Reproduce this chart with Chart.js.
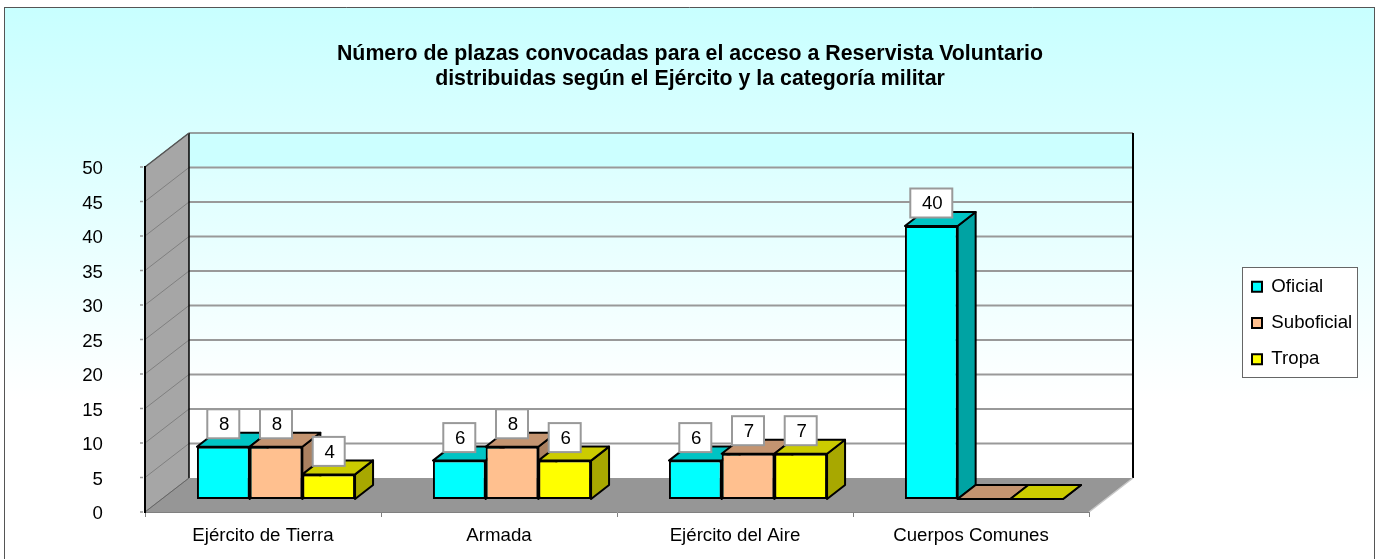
<!DOCTYPE html>
<html><head><meta charset="utf-8">
<style>html,body{margin:0;padding:0;background:#fff}canvas{display:block}</style>
<script src="https://cdn.jsdelivr.net/npm/chart.js@4"></script>
</head><body><canvas id="c" width="1380" height="559"></canvas>
<script>
const categories = ["Ejército de Tierra", "Armada", "Ejército del Aire", "Cuerpos Comunes"];
const seriesNames = ["Oficial", "Suboficial", "Tropa"];
const oficial = [8, 6, 6, 40];
const suboficial = [8, 8, 7, 0];
const tropa = [4, 6, 7, 0];
const seriesValues = [oficial, suboficial, tropa];
const frontColors = ["#00FFFF", "#FFC08F", "#FFFF00"];
const topColors = ["#00C4C4", "#C49470", "#CCCC00"];
const sideColors = ["#00A3A3", "#AA8060", "#A8A800"];
const FONT = "'Liberation Sans', Arial, sans-serif";
const WALL_DX = 44, WALL_DY = 34, BAR_SHIFT_X = 13, BAR_SHIFT_Y = 10, BAR_DX = 18, BAR_DY = 14;

function poly(ctx, pts, fill, stroke, lw) {
  ctx.beginPath();
  pts.forEach((p, i) => i ? ctx.lineTo(p[0], p[1]) : ctx.moveTo(p[0], p[1]));
  ctx.closePath();
  if (fill) { ctx.fillStyle = fill; ctx.fill(); }
  if (stroke) { ctx.strokeStyle = stroke; ctx.lineWidth = lw || 1; ctx.stroke(); }
}
function seg(ctx, x1, y1, x2, y2, color, lw) {
  ctx.beginPath(); ctx.moveTo(x1, y1); ctx.lineTo(x2, y2);
  ctx.strokeStyle = color; ctx.lineWidth = lw; ctx.stroke();
}

const scene = {
  id: "scene",
  afterLayout(chart) {
    const l = chart.legend;
    l.left = 1234.5; l.right = l.left + l.width; l.top = 260; l.bottom = l.top + l.height;
    const t = chart.titleBlock;
    t.left = 0; t.right = chart.width; t.width = chart.width;
    const y = chart.scales.y;
    if (!y._nudged) {
      y._nudged = true;
      const drawLabels = y.drawLabels;
      y.drawLabels = function (a) {
        this.ctx.save(); this.ctx.translate(0, 2);
        drawLabels.call(this, a);
        this.ctx.restore();
      };
    }
  },
  beforeDraw(chart) {
    const { ctx, height } = chart;
    const x = chart.scales.x, y = chart.scales.y;
    const L = x.left, R = x.right, T = y.top, B = y.bottom;
    ctx.save();
    const g = ctx.createLinearGradient(0, 7, 0, 400);
    g.addColorStop(0, "#C8FFFF"); g.addColorStop(1, "#FFFFFF");
    ctx.fillStyle = g; ctx.fillRect(4, 7, 1371, height - 7);
    seg(ctx, 4.5, 7, 4.5, height, "#555", 1);
    seg(ctx, 4, 7.5, 1375, 7.5, "#555", 1);
    seg(ctx, 1374.5, 7, 1374.5, height, "#555", 1);

    // back wall
    const bL = L + WALL_DX, bR = R + WALL_DX, bT = T - WALL_DY, bB = B - WALL_DY;
    const y45 = y.getPixelForValue(45) - WALL_DY;
    ctx.fillStyle = "#CCFFFF"; ctx.fillRect(bL, bT, bR - bL, y45 - bT);
    const w = ctx.createLinearGradient(0, y45, 0, 400);
    w.addColorStop(0, "#DDFFFF"); w.addColorStop(1, "#FFFFFF");
    ctx.fillStyle = w; ctx.fillRect(bL, y45, bR - bL, bB - y45);
    // side wall
    poly(ctx, [[L, T], [bL, bT], [bL, bB], [L, B]], "#A6A6A6");
    // floor
    poly(ctx, [[L, B], [bL, bB], [bR, bB], [R, B]], "#969696");
    // grid and axis ticks
    y.ticks.forEach(t => {
      const py = y.getPixelForValue(t.value);
      if (t.value > 0) seg(ctx, bL, py - WALL_DY, bR, py - WALL_DY, t.value === 50 ? "#808080" : "#999999", t.value === 50 ? 1.5 : 2);
      seg(ctx, L, py, bL, py - WALL_DY, "#808080", 1);
      seg(ctx, L - 5, py, L - 2, py, "#999999", 1.5);
    });
    seg(ctx, bL, bT, bL, bB, "#000", 1.5);
    seg(ctx, bR, bT, bR, bB, "#000", 2);
    seg(ctx, L, T, bL, bT, "#555", 1.5);
    seg(ctx, L, B, bL, bB, "#666", 1);
    seg(ctx, R, B, bR, bB, "#C8C8C8", 1.5);
    // legend frame
    ctx.fillStyle = "#FFFFFF"; ctx.fillRect(1242, 267, 116, 110);
    ctx.strokeStyle = "#666"; ctx.lineWidth = 1; ctx.strokeRect(1242.5, 267.5, 115, 110);
    ctx.restore();
  },
  beforeDatasetsDraw(chart) {
    const ctx = chart.ctx;
    ctx.save();
    ctx.translate(BAR_SHIFT_X, -BAR_SHIFT_Y);
    ctx.lineJoin = "round";
    chart.data.labels.forEach((_, i) => {
      chart.data.datasets.forEach((ds, d) => {
        const el = chart.getDatasetMeta(d).data[i];
        const half = el.width / 2, l = el.x - half, r = el.x + half;
        const top = Math.min(el.y, el.base), bot = el.base;
        poly(ctx, [[r, top], [r + BAR_DX, top - BAR_DY], [r + BAR_DX, bot - BAR_DY], [r, bot]], sideColors[d], "#000", 2);
        poly(ctx, [[l, top], [l + BAR_DX, top - BAR_DY], [r + BAR_DX, top - BAR_DY], [r, top]], topColors[d], "#000", 2);
      });
    });
  },
  afterDatasetsDraw(chart) {
    const ctx = chart.ctx;
    ctx.restore();
    ctx.save();
    ctx.font = "18.67px " + FONT;
    ctx.textAlign = "center"; ctx.textBaseline = "middle";
    chart.data.datasets.forEach((ds, d) => {
      chart.getDatasetMeta(d).data.forEach((el, i) => {
        const v = ds.data[i];
        if (!v) return;
        const cx = el.x + BAR_SHIFT_X, top = el.y - BAR_SHIFT_Y;
        const bw = v >= 10 ? 42 : 32, bh = 29, cy = top - 23;
        ctx.fillStyle = "#FFFFFF";
        ctx.fillRect(cx - bw / 2, cy - bh / 2, bw, bh);
        ctx.strokeStyle = "#999999"; ctx.lineWidth = 2;
        ctx.strokeRect(cx - bw / 2, cy - bh / 2, bw, bh);
        ctx.fillStyle = "#000";
        ctx.fillText(String(v), cx + 1, cy + 1);
      });
    });
    ctx.restore();
  }
};

const datasets = seriesNames.map((name, d) => ({
  label: name,
  data: seriesValues[d],
  backgroundColor: c => c.raw === 0 ? "rgba(0,0,0,0)" : frontColors[d],
  borderColor: "#000",
  borderWidth: c => c.raw === 0 ? 0 : 2,
  borderSkipped: false,
  base: 0.43,
  clip: false,
  categoryPercentage: 0.67,
  barPercentage: 1
}));

const chart = new Chart(document.getElementById("c"), {
  type: "bar",
  data: { labels: categories, datasets },
  plugins: [scene],
  options: {
    responsive: false,
    animation: false,
    devicePixelRatio: 1,
    layout: { padding: { left: 80, right: 160, top: 42, bottom: 10 } },
    plugins: {
      tooltip: { enabled: false },
      title: {
        display: true,
        text: ["Número de plazas convocadas para el acceso a Reservista Voluntario",
               "distribuidas según el Ejército y la categoría militar"],
        color: "#000",
        font: { family: FONT, size: 21.33, weight: "bold", lineHeight: 1.172 },
        padding: { top: 0, bottom: 60 }
      },
      legend: {
        position: "right",
        align: "start",
        labels: {
          boxWidth: 10, boxHeight: 10, padding: 17.5,
          color: "#000",
          font: { family: FONT, size: 18.67 },
          generateLabels: () => seriesNames.map((n, d) => ({
            text: n, fillStyle: frontColors[d], strokeStyle: "#000", lineWidth: 2, datasetIndex: d, hidden: false
          }))
        }
      }
    },
    scales: {
      x: {
        grid: { display: true, drawOnChartArea: false, tickLength: 5, color: "#808080" },
        border: { color: "#808080", width: 1 },
        ticks: { color: "#000", padding: 8, maxRotation: 0, font: { family: FONT, size: 18.67 } }
      },
      y: {
        min: 0, max: 50,
        ticks: { stepSize: 5, color: "#000", padding: 4, font: { family: FONT, size: 18.67 } },
        grid: { display: true, drawOnChartArea: false, tickLength: 38, tickColor: "rgba(0,0,0,0)" },
        border: { color: "#000", width: 2 }
      }
    }
  }
});

// Fit the plot area to the reference frame through layout settings
for (let i = 0; i < 4; i++) {
  const a = chart.chartArea, p = chart.options.layout.padding, t = chart.options.plugins.title.padding;
  p.left += 145 - a.left;
  p.right += a.right - 1089;
  p.bottom += a.bottom - 512;
  t.bottom += 167 - a.top;
  chart.update("none");
}
</script></body></html>
